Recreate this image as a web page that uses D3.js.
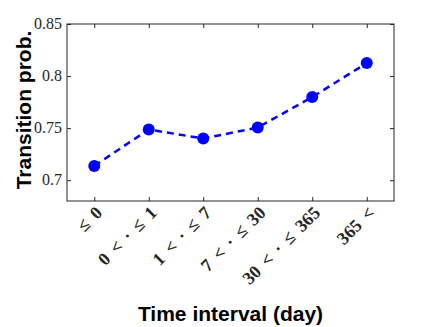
<!DOCTYPE html>
<html>
<head>
<meta charset="utf-8">
<script src="https://cdn.jsdelivr.net/npm/d3@7"></script>
<style>
  body { margin: 0; background: white; }
</style>
</head>
<body>
<script>
// chart data
var categories = ["\u2264 0", "0 < \u00b7 \u2264 1", "1 < \u00b7 \u2264 7", "7 < \u00b7 \u2264 30", "30 < \u00b7 \u2264 365", "365 <"];
var probs = [0.7137, 0.7487, 0.7400, 0.7506, 0.7798, 0.8125];
var yTicks = [0.7, 0.75, 0.8, 0.85];

var W = 436, H = 327;
var mLeft = 67, mRight = 394, mTop = 24, mBottom = 201;

var svg = d3.select("body").append("svg")
            .attr("width", W)
            .attr("height", H);

var x = d3.scaleLinear().domain([0.5, 6.5]).range([mLeft, mRight]);
var y = d3.scaleLinear().domain([0.68, 0.85]).range([mBottom, mTop]);
var idx = d3.range(categories.length).map(function (d) { return d + 1; });

// box
svg.append("rect")
   .attr("x", mLeft).attr("y", mTop)
   .attr("width", mRight - mLeft).attr("height", mBottom - mTop)
   .style("fill", "none").style("stroke", "#262626").style("stroke-width", 1);

// axes (ticks inward, labels drawn separately)
var yAxis = d3.axisLeft(y).tickValues(yTicks).tickSizeInner(-4).tickSizeOuter(0).tickFormat("");
var yAxisR = d3.axisRight(y).tickValues(yTicks).tickSizeInner(-4).tickSizeOuter(0).tickFormat("");
var xAxis = d3.axisBottom(x).tickValues(idx).tickSizeInner(-4).tickSizeOuter(0).tickFormat("");
var xAxisT = d3.axisTop(x).tickValues(idx).tickSizeInner(-4).tickSizeOuter(0).tickFormat("");

[[yAxis, "translate(" + mLeft + ",0)"], [yAxisR, "translate(" + mRight + ",0)"],
 [xAxis, "translate(0," + mBottom + ")"], [xAxisT, "translate(0," + mTop + ")"]].forEach(function (a) {
    var g = svg.append("g").attr("transform", a[1]).call(a[0]);
    g.select(".domain").remove();
    g.selectAll("line").style("stroke", "#262626");
});

// y tick labels
svg.selectAll(".ylab").data(yTicks).enter().append("text")
   .attr("x", mLeft - 5)
   .attr("y", function (d) { return y(d) + 5; })
   .attr("text-anchor", "end")
   .attr("font-family", "'Liberation Serif', serif")
   .attr("font-size", 16)
   .style("fill", "#262626")
   .text(function (d) { return d; });

// x tick labels, rotated
svg.selectAll(".xlab").data(categories).enter().append("text")
   .attr("transform", function (d, i) {
       return "translate(" + (x(i + 1) + 9) + "," + (mBottom + 13) + ") rotate(-45)";
   })
   .attr("text-anchor", "end")
   .attr("font-family", "'Liberation Serif', serif")
   .attr("font-weight", "bold")
   .attr("font-size", 18)
   .attr("word-spacing", 3)
   .style("fill", "#262626")
   .text(function (d) { return d; });

// line
var line = d3.line()
             .x(function (d, i) { return x(i + 1); })
             .y(function (d) { return y(d); });

svg.append("path")
   .datum(probs)
   .attr("d", line)
   .style("fill", "none")
   .style("stroke", "#0000ff")
   .style("stroke-width", 2.5)
   .style("stroke-dasharray", "7,5");

svg.selectAll(".pt").data(probs).enter().append("circle")
   .attr("cx", function (d, i) { return x(i + 1); })
   .attr("cy", function (d) { return y(d); })
   .attr("r", 6)
   .style("fill", "#0000ff");

// axis titles
svg.append("text")
   .attr("transform", "translate(31,110) rotate(-90)")
   .attr("text-anchor", "middle")
   .attr("font-family", "'Liberation Sans', Arial, sans-serif")
   .attr("font-weight", "bold")
   .attr("font-size", 21)
   .text("Transition prob.");

svg.append("text")
   .attr("x", (mLeft + mRight) / 2)
   .attr("y", 321)
   .attr("text-anchor", "middle")
   .attr("font-family", "'Liberation Sans', Arial, sans-serif")
   .attr("font-weight", "bold")
   .attr("font-size", 21)
   .text("Time interval (day)");
</script>
</body>
</html>
